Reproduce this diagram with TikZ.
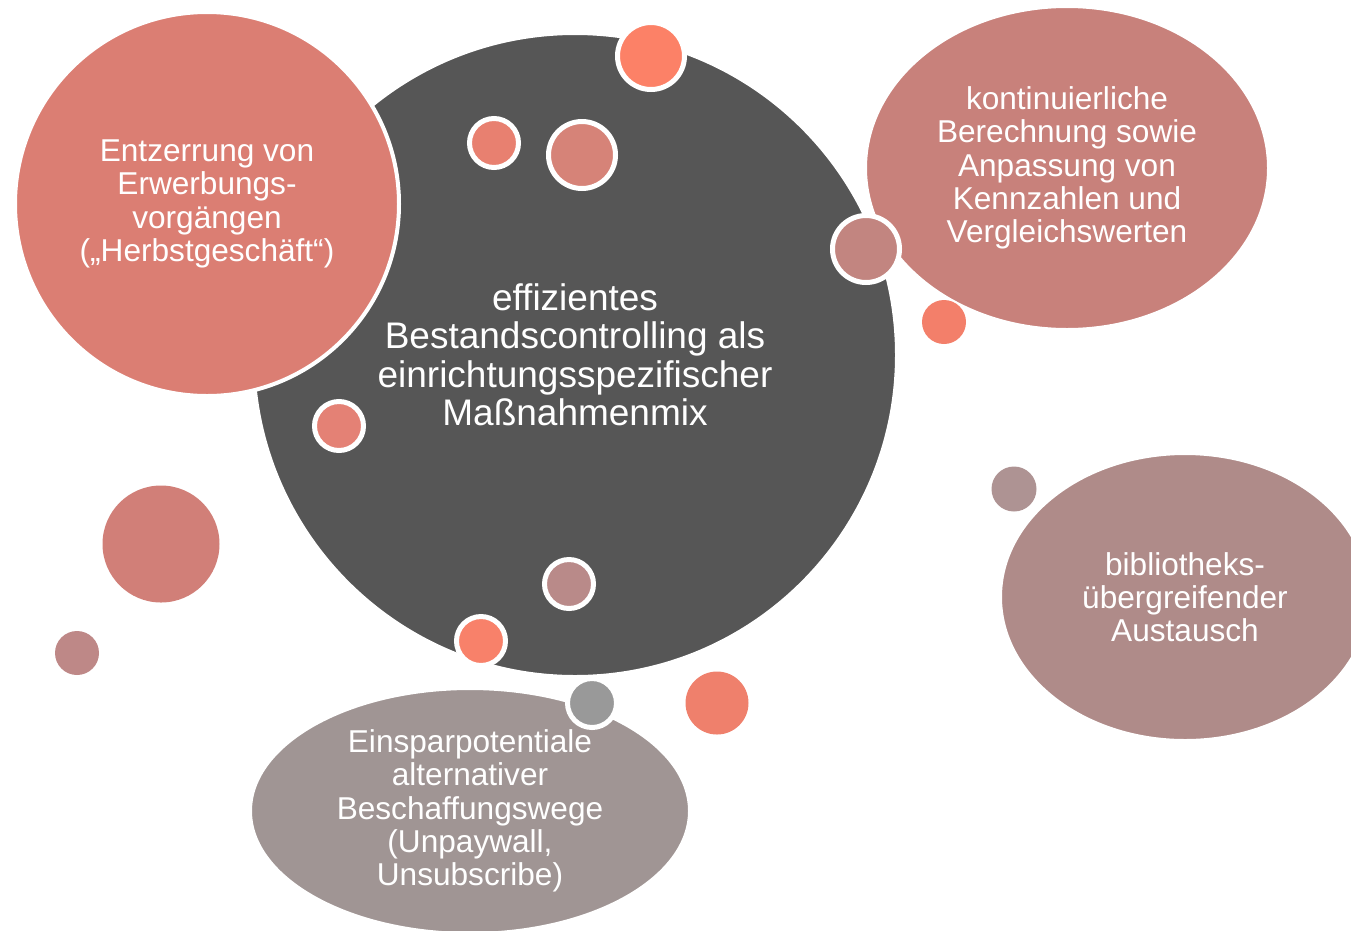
\documentclass[tikz,border=0pt]{standalone}
\usepackage{fontspec}
\setmainfont{Liberation Sans}
\usetikzlibrary{shapes.geometric}

% Cores das bolhas
\definecolor{escuro}{HTML}{565656}
\definecolor{salmao}{HTML}{DB7E73}
\definecolor{rosa}{HTML}{C8817B}
\definecolor{malva}{HTML}{AF8B89}
\definecolor{cinzarosa}{HTML}{A09594}
\definecolor{laranja}{HTML}{FC8167}
\definecolor{coral}{HTML}{E88070}
\definecolor{rosaclaro}{HTML}{D68378}
\definecolor{rosavelho}{HTML}{C28580}
\definecolor{laranjab}{HTML}{F37F6A}
\definecolor{coralb}{HTML}{E48175}
\definecolor{rosac}{HTML}{D17F78}
\definecolor{malvab}{HTML}{BE8887}
\definecolor{malvac}{HTML}{B98A89}
\definecolor{laranjac}{HTML}{F8816A}
\definecolor{cinza}{HTML}{999999}
\definecolor{corald}{HTML}{EF806C}
\definecolor{malvad}{HTML}{AE9393}

\begin{document}
\begin{tikzpicture}[
    % Coordenadas em pixels, eixo y para baixo
    x=1pt, y=-1pt,
    % Estilo padrão dos nós
    every node/.style={inner sep=0pt, text=white, align=center},
    % Bolhas grandes com texto
    texto/.style={font=\fontsize{31.6}{33.3}\selectfont},
    grande/.style={draw=white, line width=4pt, fill=#1, texto},
    % Bolhas pequenas com e sem borda
    borda/.style={circle, draw=white, line width=5pt, fill=#1},
    ponto/.style={circle, fill=#1}
  ]

  \useasboundingbox (0,0) rectangle (1351,930);

  % Círculo central
  \node[circle, fill=escuro, draw=white, line width=4pt, minimum size=644pt,
    font=\fontsize{37}{38.5}\selectfont] (centro) at (575,355)
    {effizientes\\Bestandscontrolling als\\einrichtungsspezifischer\\Maßnahmenmix};

  % Círculo superior esquerdo
  \node[grande=salmao, circle, minimum size=384pt] (erwerb) at (207,204)
    {Entzerrung von\\Erwerbungs-\\vorgängen\\(„Herbstgeschäft“)};

  % Elipse superior direita
  \node[grande=rosa, ellipse, minimum width=404pt, minimum height=324pt] (kennzahl) at (1067,168)
    {kontinuierliche\\Berechnung sowie\\Anpassung von\\Kennzahlen und\\Vergleichswerten};

  % Elipse direita
  \node[grande=malva, ellipse, minimum width=370pt, minimum height=288pt] (austausch) at (1185,597)
    {bibliotheks-\\übergreifender\\Austausch};

  % Elipse inferior
  \node[grande=cinzarosa, ellipse, minimum width=440pt, minimum height=246pt] (einspar) at (470,811)
    {Einsparpotentiale\\alternativer\\Beschaffungswege\\(Unpaywall,\\Unsubscribe)};

  % Bolhas pequenas com borda branca
  \node[borda=laranja, minimum size=67pt] (b1) at (651,56) {};
  \node[borda=coral, minimum size=49pt] (b2) at (494,143) {};
  \node[borda=rosaclaro, minimum size=67pt] (b3) at (582,155) {};
  \node[borda=rosavelho, minimum size=67pt] (b4) at (866,249) {};
  \node[borda=coralb, minimum size=49pt] (b5) at (339,426) {};
  \node[borda=malvac, minimum size=49pt] (b6) at (569,584) {};
  \node[borda=laranjac, minimum size=49pt] (b7) at (481,641) {};
  \node[borda=cinza, minimum size=49pt] (b8) at (592,703) {};

  % Bolhas pequenas sem borda
  \node[ponto=laranjab, minimum size=44pt] (p1) at (944,322) {};
  \node[ponto=rosac, minimum size=117pt] (p2) at (161,544) {};
  \node[ponto=malvab, minimum size=44pt] (p3) at (77,653) {};
  \node[ponto=corald, minimum size=63pt] (p4) at (717,703) {};
  \node[ponto=malvad, minimum size=45pt] (p5) at (1014,489) {};

\end{tikzpicture}
\end{document}
